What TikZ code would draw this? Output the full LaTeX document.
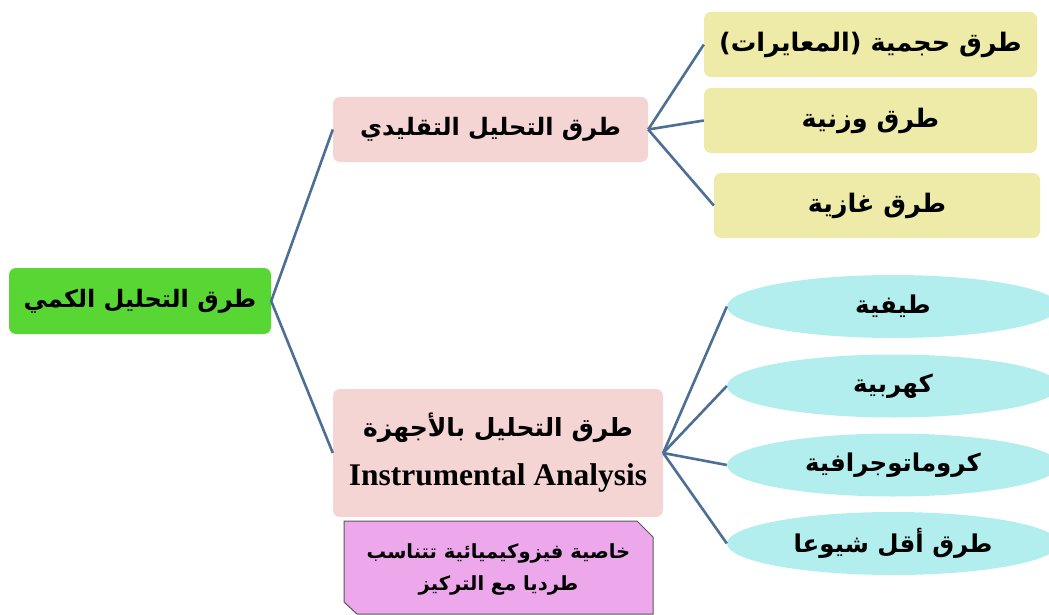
\documentclass[tikz,border=0pt]{standalone}
\usepackage{fontspec}
\setmainfont{Liberation Serif}
\newfontfamily\arabicfont[Script=Arabic]{DejaVu Sans}
\TeXXeTstate=1
\usetikzlibrary{shapes.geometric}
\definecolor{rootgreen}{HTML}{58D634}
\definecolor{pinkbox}{HTML}{F5D5D4}
\definecolor{yellowbox}{HTML}{EEEBA9}
\definecolor{cyanell}{HTML}{B3EEEF}
\definecolor{purplebox}{HTML}{EDA8EC}
\definecolor{connblue}{HTML}{4D6E95}
\newcommand{\artext}[1]{{\arabicfont\bfseries\beginR #1\endR}}
\tikzset{
  basebox/.style={rectangle, rounded corners=7pt, inner sep=0pt, text=black},
  rootbox/.style={basebox, fill=rootgreen, font=\fontsize{24}{28}\selectfont},
  catbox/.style={basebox, fill=pinkbox, font=\fontsize{24}{28}\selectfont},
  leafbox/.style={basebox, fill=yellowbox, font=\fontsize{25.5}{28}\selectfont},
  leafell/.style={ellipse, fill=cyanell, inner sep=0pt, minimum width=332pt, minimum height=63pt, font=\fontsize{24.5}{28}\selectfont},
  noteshape/.style={fill=purplebox, draw=black!65, line width=1pt},
  notetext/.style={inner sep=0pt, font=\fontsize{19.5}{32}\selectfont, align=center},
  conn/.style={draw=connblue, line width=2.6pt}
}
\begin{document}
\begin{tikzpicture}[x=1pt,y=-1pt]
\useasboundingbox (0,0) rectangle (1049,615);
\node[rootbox, minimum width=262pt, minimum height=66pt] (root) at (140,301) {\artext{طرق التحليل الكمي}};
\node[catbox, minimum width=315pt, minimum height=65pt] (trad) at (490.5,129.5) {\artext{طرق التحليل التقليدي}};
\node[catbox, minimum width=330pt, minimum height=128pt, align=center] (instr) at (498,453) {{\fontsize{25}{28}\selectfont\artext{طرق التحليل بالأجهزة}}\\[21pt]{\fontsize{31.5}{32}\selectfont\bfseries Instrumental Analysis}};
\path[noteshape] (344,521) -- (637,521) -- (653,537) -- (653,614) -- (357,614) -- (344,602) -- cycle;
\node[notetext] (note) at (498.5,569) {\artext{خاصية فيزوكيميائية تتناسب}\\\artext{طرديا مع التركيز}};
\node[leafbox, minimum width=333pt, minimum height=65pt] (vol) at (870.5,44.5) {\artext{طرق حجمية (المعايرات)}};
\node[leafbox, minimum width=333pt, minimum height=65pt] (grav) at (870.5,120.5) {\artext{طرق وزنية}};
\node[leafbox, minimum width=326pt, minimum height=65pt] (gas) at (877,205.5) {\artext{طرق غازية}};
\node[leafell] (spec) at (893,306.5) {\artext{طيفية}};
\node[leafell] (elec) at (893,386) {\artext{كهربية}};
\node[leafell] (chrom) at (893,465) {\artext{كروماتوجرافية}};
\node[leafell] (less) at (893,543.5) {\artext{طرق أقل شيوعا}};
\draw[conn] (root.east) -- (trad.west);
\draw[conn] (root.east) -- (instr.west);
\draw[conn] (trad.east) -- (vol.west);
\draw[conn] (trad.east) -- (grav.west);
\draw[conn] (trad.east) -- (gas.west);
\draw[conn] (instr.east) -- (spec.west);
\draw[conn] (instr.east) -- (elec.west);
\draw[conn] (instr.east) -- (chrom.west);
\draw[conn] (instr.east) -- (less.west);
\end{tikzpicture}
\end{document}
